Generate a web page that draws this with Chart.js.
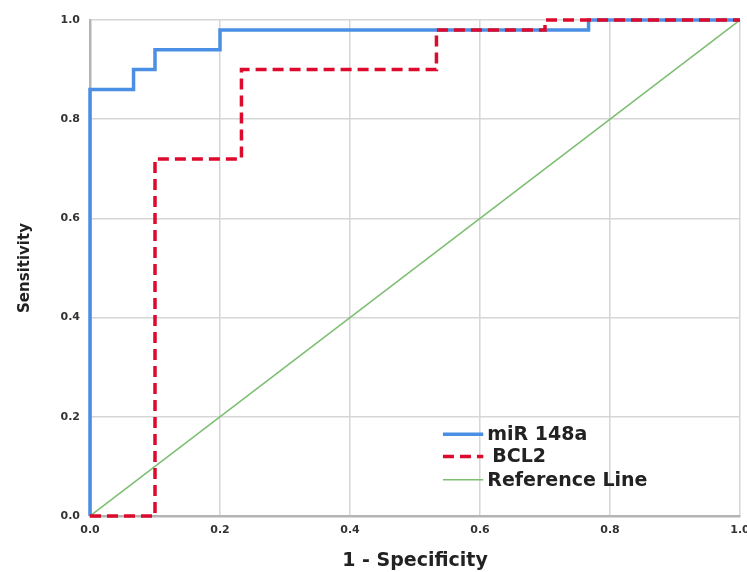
<!DOCTYPE html>
<html>
<head>
<meta charset="utf-8">
<script src="https://cdn.jsdelivr.net/npm/chart.js@4"></script>
<style>
  html, body { margin: 0; padding: 0; background: #fff; }
  #wrap { width: 747px; height: 572px; }
</style>
</head>
<body>
<div id="wrap"><canvas id="rocChart" width="747" height="572"></canvas></div>
<script>
// ROC points (1 - specificity, sensitivity)
const mirFpr = [0, 0, 0.067, 0.1, 0.2, 0.767, 1];
const mirTpr = [0, 0.86, 0.9, 0.94, 0.98, 1, 1];
const bclFpr = [0, 0.1, 0.233, 0.533, 0.7, 1];
const bclTpr = [0, 0.72, 0.9, 0.98, 1, 1];
const refX = [0, 1];
const refY = [0, 1];
const tickValues = [0, 0.2, 0.4, 0.6, 0.8, 1.0];
const seriesNames = ['miR 148a', 'BCL2', 'Reference Line'];

const toPoints = (xs, ys) => xs.map((x, i) => ({ x: x, y: ys[i] }));

const boldFont = 'bold 19px "DejaVu Sans"';

// legend drawn inside the plot, lower right
const insideLegend = {
    id: 'insideLegend',
    afterDraw(chart) {
        const ctx = chart.ctx;
        const xs = chart.scales.x;
        const ys = chart.scales.y;
        const rows = [0.165, 0.12, 0.073];
        ctx.save();
        chart.data.datasets.forEach((ds, i) => {
            const y = ys.getPixelForValue(rows[i]);
            const x0 = xs.getPixelForValue(0.543);
            const x1 = xs.getPixelForValue(0.605);
            ctx.beginPath();
            ctx.strokeStyle = ds.borderColor;
            ctx.lineWidth = ds.borderWidth;
            ctx.setLineDash(ds.borderDash || []);
            ctx.moveTo(x0, y);
            ctx.lineTo(x1, y);
            ctx.stroke();
            ctx.setLineDash([]);
            ctx.fillStyle = '#222';
            ctx.font = boldFont;
            ctx.textBaseline = 'middle';
            ctx.textAlign = 'left';
            ctx.fillText(seriesNames[i], x1 + (i === 1 ? 9 : 4), y + 1);
        });
        ctx.restore();
    }
};

const rocConfig = {
    type: 'scatter',
    data: {
        datasets: [{
            label: seriesNames[0],
            data: toPoints(mirFpr, mirTpr),
            showLine: true,
            stepped: 'before',
            borderColor: '#4a8fe3',
            borderWidth: 3.5,
            pointRadius: 0,
            clip: 6,
            order: 1,
        }, {
            label: seriesNames[1],
            data: toPoints(bclFpr, bclTpr),
            showLine: true,
            stepped: 'before',
            borderColor: '#dc0a2d',
            borderWidth: 3.5,
            borderDash: [11, 6],
            pointRadius: 0,
            clip: 6,
            order: 0,
        }, {
            label: seriesNames[2],
            data: toPoints(refX, refY),
            showLine: true,
            borderColor: '#7dbd72',
            borderWidth: 1.5,
            pointRadius: 0,
            order: 2,
        }],
    },
    options: {
        responsive: false,
        animation: false,
        layout: { padding: { top: 20, right: 7, left: 0, bottom: 0 } },
        scales: {
            x: {
                type: 'linear',
                min: 0,
                max: 1,
                afterBuildTicks: (s) => { s.ticks = tickValues.map(v => ({ value: v })); },
                afterFit: (s) => { s.height = 56; s.paddingLeft = 0; s.paddingRight = 0; },
                ticks: {
                    padding: 8,
                    color: '#333',
                    font: { family: 'DejaVu Sans', size: 11, weight: 'bold' },
                    callback: (v) => v.toFixed(1),
                    maxRotation: 0,
                },
                grid: { color: '#d6d6d6', lineWidth: 1.5, drawTicks: false },
                border: { color: '#b4b4b4', width: 2.5 },
                title: {
                    display: true,
                    text: '1 - Specificity',
                    color: '#222',
                    font: { family: 'DejaVu Sans', size: 19, weight: 'bold' },
                    padding: 0,
                },
            },
            y: {
                type: 'linear',
                min: 0,
                max: 1,
                afterBuildTicks: (s) => { s.ticks = tickValues.map(v => ({ value: v })); },
                afterFit: (s) => { s.width = 90; },
                ticks: {
                    padding: 10,
                    color: '#333',
                    font: { family: 'DejaVu Sans', size: 11, weight: 'bold' },
                    callback: (v) => v.toFixed(1),
                },
                grid: { color: '#d6d6d6', lineWidth: 1.5, drawTicks: false },
                border: { color: '#b4b4b4', width: 2.5 },
                title: {
                    display: true,
                    text: 'Sensitivity',
                    color: '#222',
                    font: { family: 'DejaVu Sans', size: 15, weight: 'bold' },
                    padding: { top: 16, bottom: 0 },
                },
            },
        },
        plugins: {
            legend: { display: false },
            tooltip: { enabled: false },
        },
    },
    plugins: [insideLegend],
};

const rocChart = new Chart(document.getElementById('rocChart').getContext('2d'), rocConfig);
</script>
</body>
</html>
